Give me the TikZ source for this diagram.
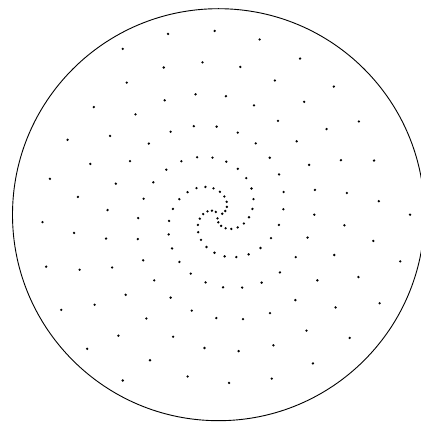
\documentclass[tikz,border=0pt]{standalone}
\usepackage{tikz}
\begin{document}
\begin{tikzpicture}[x=1pt,y=1pt,
  rim/.style={draw,line width=0.9pt},
  seed/.style={fill=black}]
\useasboundingbox (-218.5,-207.3) rectangle (201.5,214.7);
\coordinate (ctr) at (0,0);
% outer rim
\draw[rim] (ctr) circle (206pt);
% three arms, 50 dots each, 14.4 deg apart
\foreach \arm in {0,1,2}
  \foreach \k in {1,...,50}
    \fill[seed] (14.4*\k+120*\arm:3.83*\k) circle (1.3pt);
\end{tikzpicture}
\end{document}
